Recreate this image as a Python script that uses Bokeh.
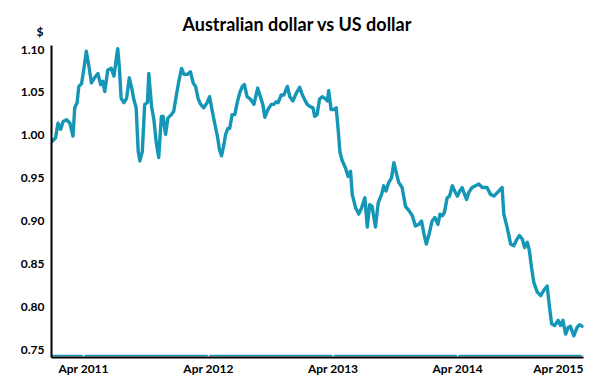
import pandas as pd
from bokeh.plotting import figure
from bokeh.models import (Range1d, FixedTicker, NumeralTickFormatter, Span, Label,
                          CustomJSTickFormatter, ColumnDataSource)
from bokeh.embed import file_html
from bokeh.resources import INLINE

# ---- data ----
dates = [
    "2010-12-30", "2011-01-09", "2011-01-16", "2011-01-24", "2011-01-31", "2011-02-10", "2011-02-20",
    "2011-03-01", "2011-03-06", "2011-03-13", "2011-03-18", "2011-03-26", "2011-04-02", "2011-04-09",
    "2011-04-16", "2011-04-24", "2011-05-03", "2011-05-13", "2011-05-21", "2011-05-27", "2011-06-02",
    "2011-06-11", "2011-06-21", "2011-06-29", "2011-07-06", "2011-07-10", "2011-07-15", "2011-07-20",
    "2011-07-28", "2011-08-05", "2011-08-13", "2011-08-20", "2011-08-26", "2011-09-02", "2011-09-08",
    "2011-09-13", "2011-09-20", "2011-09-27", "2011-10-05", "2011-10-09", "2011-10-17", "2011-10-24",
    "2011-10-31", "2011-11-07", "2011-11-15", "2011-11-20", "2011-11-27", "2011-12-04", "2011-12-14",
    "2011-12-21", "2011-12-28",
    "2012-01-05", "2012-01-13", "2012-01-20", "2012-01-30", "2012-02-08", "2012-02-16", "2012-02-23",
    "2012-03-02", "2012-03-09", "2012-03-18", "2012-03-28", "2012-04-04", "2012-04-12", "2012-04-19",
    "2012-04-27", "2012-05-03", "2012-05-09", "2012-05-16", "2012-05-21", "2012-05-28", "2012-06-02",
    "2012-06-09", "2012-06-17", "2012-06-24", "2012-07-01", "2012-07-09", "2012-07-15", "2012-07-23",
    "2012-08-02", "2012-08-12", "2012-08-23", "2012-08-31", "2012-09-07", "2012-09-13", "2012-09-22",
    "2012-10-02", "2012-10-09", "2012-10-16", "2012-10-22", "2012-10-31", "2012-11-08", "2012-11-18",
    "2012-11-25", "2012-12-04", "2012-12-14", "2012-12-24", "2012-12-31",
    "2013-01-07", "2013-01-15", "2013-01-25", "2013-02-01", "2013-02-06", "2013-02-13", "2013-02-20",
    "2013-02-28", "2013-03-08", "2013-03-15", "2013-03-19", "2013-03-26", "2013-04-03", "2013-04-10",
    "2013-04-16", "2013-04-21", "2013-04-28", "2013-05-07", "2013-05-15", "2013-05-22", "2013-05-27",
    "2013-06-06", "2013-06-15", "2013-06-23", "2013-07-03", "2013-07-10", "2013-07-17", "2013-07-24",
    "2013-08-03", "2013-08-11", "2013-08-21", "2013-08-27", "2013-09-03", "2013-09-11", "2013-09-19",
    "2013-09-26", "2013-10-03", "2013-10-10", "2013-10-20", "2013-10-30", "2013-11-09", "2013-11-19",
    "2013-11-28", "2013-12-08", "2013-12-16", "2013-12-23", "2013-12-30",
    "2014-01-08", "2014-01-16", "2014-01-24", "2014-02-02", "2014-02-08", "2014-02-15", "2014-02-21",
    "2014-03-01", "2014-03-08", "2014-03-16", "2014-03-23", "2014-03-31", "2014-04-07", "2014-04-14",
    "2014-04-19", "2014-04-27", "2014-05-03", "2014-05-13", "2014-05-23", "2014-06-02", "2014-06-12",
    "2014-06-26", "2014-07-06", "2014-07-16", "2014-07-26", "2014-08-09", "2014-08-14", "2014-08-24",
    "2014-09-03", "2014-09-12", "2014-09-22", "2014-09-29", "2014-10-07", "2014-10-14", "2014-10-22",
    "2014-10-28", "2014-11-03", "2014-11-10", "2014-11-20", "2014-11-30", "2014-12-09", "2014-12-19",
    "2014-12-26",
    "2015-01-01", "2015-01-10", "2015-01-20", "2015-01-27", "2015-02-03", "2015-02-11", "2015-02-19",
    "2015-02-25", "2015-03-07", "2015-03-17", "2015-03-24", "2015-04-01",
]

aud_usd = [
    0.993, 0.997, 1.014, 1.007, 1.016, 1.018, 1.014, 0.999, 1.032, 1.038,
    1.057, 1.060, 1.078, 1.098, 1.082, 1.061, 1.067, 1.072, 1.059, 1.063,
    1.051, 1.076, 1.078, 1.069, 1.090, 1.101, 1.078, 1.043, 1.038, 1.043,
    1.067, 1.055, 1.042, 1.032, 0.981, 0.970, 0.981, 1.036, 1.038, 1.072,
    1.034, 1.018, 0.991, 0.974, 1.022, 1.022, 1.001, 1.020, 1.024, 1.028,
    1.045, 1.063, 1.078, 1.071, 1.071, 1.074, 1.061, 1.057, 1.042, 1.036,
    1.032, 1.038, 1.045, 1.028, 1.014, 0.999, 0.983, 0.976, 0.989, 1.001,
    1.008, 1.008, 1.024, 1.024, 1.038, 1.049, 1.057, 1.059, 1.045, 1.042,
    1.036, 1.055, 1.045, 1.036, 1.021, 1.030, 1.036, 1.036, 1.039, 1.038,
    1.047, 1.047, 1.057, 1.045, 1.040, 1.049, 1.056, 1.048, 1.042, 1.036,
    1.033, 1.032, 1.022, 1.024, 1.042, 1.045, 1.043, 1.040, 1.052, 1.030,
    1.030, 1.032, 1.005, 0.980, 0.970, 0.962, 0.952, 0.958, 0.931, 0.915,
    0.908, 0.915, 0.927, 0.893, 0.919, 0.917, 0.893, 0.921, 0.931, 0.941,
    0.935, 0.945, 0.950, 0.968, 0.956, 0.945, 0.939, 0.917, 0.912, 0.906,
    0.894, 0.896, 0.900, 0.885, 0.873, 0.886, 0.900, 0.904, 0.896, 0.908,
    0.906, 0.910, 0.927, 0.929, 0.941, 0.935, 0.929, 0.935, 0.939, 0.933,
    0.925, 0.933, 0.939, 0.941, 0.943, 0.939, 0.939, 0.931, 0.929, 0.933,
    0.939, 0.908, 0.892, 0.873, 0.871, 0.879, 0.883, 0.879, 0.869, 0.875,
    0.865, 0.846, 0.828, 0.817, 0.813, 0.819, 0.824, 0.799, 0.780, 0.778,
    0.784, 0.778, 0.784, 0.768, 0.776, 0.777, 0.766, 0.776, 0.779, 0.777,
]

y_ticks = [0.75, 0.80, 0.85, 0.90, 0.95, 1.00, 1.05, 1.10]
# tick marks (small gaps in the baseline) sit on 1 April of each year
x_tick_dates = ["2011-04-01", "2012-04-01", "2013-04-01", "2014-04-01", "2015-04-01"]
x_tick_labels = ["Apr 2011", "Apr 2012", "Apr 2013", "Apr 2014", "Apr 2015"]
# where each label is centred: the last one is pulled inside the plot edge
x_label_dates = ["2011-04-01", "2012-04-01", "2013-04-01", "2014-04-01", "2015-01-21"]

title_text = "Australian dollar vs US dollar"
unit_text = "$"

assert len(dates) == len(aud_usd)

# ---- styling ----
LINE = "#1497b6"
FONT = "Lato"
x_start = pd.Timestamp("2010-12-28")
x_end = pd.Timestamp("2015-04-04 10:00")
y_start, y_end = 0.7407, 1.1047
px_per_unit = 313 / (y_end - y_start)


def ms(d):
    return int(pd.Timestamp(d).value // 10**6)


src = ColumnDataSource(dict(date=pd.to_datetime(dates), value=aud_usd))

p = figure(width=600, height=383, x_axis_type="datetime",
           x_range=Range1d(x_start, x_end), y_range=Range1d(y_start, y_end),
           output_backend="svg", toolbar_location=None,
           min_border_left=51, min_border_right=17, min_border_top=44, min_border_bottom=26)

p.background_fill_color = "white"
p.border_fill_color = "white"
p.outline_line_color = None
p.grid.visible = False

p.title.text = title_text
p.title.align = "left"
p.title.offset = 131
p.title.standoff = 21
p.title.text_font = FONT
p.title.text_font_style = "bold"
p.title.text_font_size = "18px"
p.title.text_color = "#000000"

# teal baseline just above the x axis, with small white gaps at the tick dates
p.add_layout(Span(location=y_start + 2 / px_per_unit, dimension="width",
                  line_color=LINE, line_width=1.5, level="underlay"))
for d in x_tick_dates:
    p.add_layout(Span(location=ms(d), dimension="height", line_color="white",
                      line_width=1.5, level="underlay"))

p.line(x="date", y="value", source=src, line_color=LINE, line_width=3.4,
       line_join="round", line_cap="round")

# y axis
yax = p.yaxis[0]
yax.ticker = FixedTicker(ticks=y_ticks)
yax.formatter = NumeralTickFormatter(format="0.00")
yax.axis_line_color = "black"
yax.axis_line_width = 2
yax.major_tick_line_color = None
yax.major_tick_in = 0
yax.major_tick_out = 0
yax.minor_tick_line_color = None
yax.minor_tick_in = 0
yax.minor_tick_out = 0
yax.major_label_standoff = 7
yax.major_label_text_font = FONT
yax.major_label_text_font_style = "bold"
yax.major_label_text_font_size = "12px"
yax.major_label_text_color = "black"

# x axis
xax = p.xaxis[0]
xax.ticker = FixedTicker(ticks=[ms(d) for d in x_label_dates])
xax.formatter = CustomJSTickFormatter(args=dict(labels=x_tick_labels),
                                      code="return labels[index]")
xax.axis_line_color = "black"
xax.axis_line_width = 2
xax.major_tick_line_color = None
xax.major_tick_in = 0
xax.major_tick_out = 0
xax.minor_tick_line_color = None
xax.minor_tick_in = 0
xax.minor_tick_out = 0
xax.major_label_standoff = 3
xax.major_label_text_font = FONT
xax.major_label_text_font_style = "bold"
xax.major_label_text_font_size = "12px"
xax.major_label_text_color = "black"

# unit label above the y axis (placed in the left side panel so it is not clipped)
p.add_layout(Label(x=x_start, y=y_end, text=unit_text, x_offset=-8, y_offset=14,
                   text_align="right", text_baseline="middle", text_font=FONT,
                   text_font_style="bold", text_font_size="12px", text_color="black"),
             "left")

open("out.html", "w").write(file_html(p, INLINE))
